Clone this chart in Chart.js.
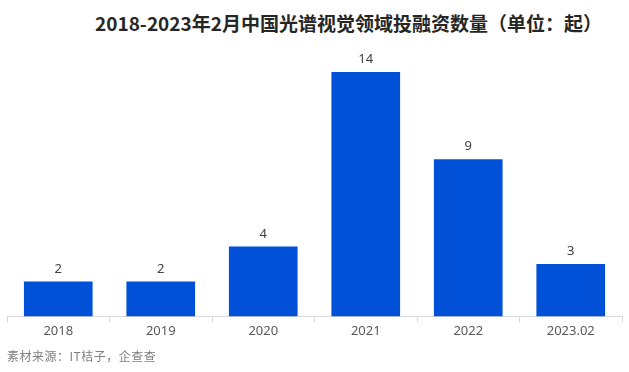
<!DOCTYPE html>
<html>
<head>
<meta charset="utf-8">
<script src="https://cdn.jsdelivr.net/npm/chart.js@4/dist/chart.umd.min.js"></script>
<style>
  body { margin: 0; background: #fff; }
  #wrap { position: relative; width: 629px; height: 372px; overflow: hidden; }
  #title {
    position: absolute; top: 9px; left: 90px; width: 517px; text-align: center;
    font: bold 19px "Noto Sans CJK SC", "Noto Sans", sans-serif; color: #262626; white-space: nowrap;
  }
  #source {
    position: absolute; top: 347px; left: 7px; letter-spacing: 0.5px;
    font: 12px "Noto Sans CJK SC", sans-serif; color: #7f7f7f; white-space: nowrap;
  }
  canvas { position: absolute; top: 0; left: 0; }
</style>
</head>
<body>
<div id="wrap">
  <div id="title">2018-2023年2月中国光谱视觉领域投融资数量（单位：起）</div>
  <canvas id="chart" width="629" height="372"></canvas>
  <div id="source">素材来源：IT桔子，企查查</div>
</div>
<script>
const categories = ['2018', '2019', '2020', '2021', '2022', '2023.02'];
const dealCounts = [2, 2, 4, 14, 9, 3];

const valueLabels = {
  id: 'valueLabels',
  afterDatasetsDraw(chart) {
    const ctx = chart.ctx;
    const meta = chart.getDatasetMeta(0);
    ctx.save();
    ctx.font = '13px "Noto Sans", sans-serif';
    ctx.fillStyle = '#404040';
    ctx.textAlign = 'center';
    ctx.textBaseline = 'bottom';
    meta.data.forEach((bar, i) => {
      ctx.fillText(dealCounts[i], bar.x, bar.y - 6);
    });
    ctx.restore();
  }
};

new Chart(document.getElementById('chart'), {
  type: 'bar',
  data: {
    labels: categories,
    datasets: [{
      data: dealCounts,
      backgroundColor: '#0050D8',
      categoryPercentage: 1,
      barPercentage: 0.67
    }]
  },
  options: {
    responsive: false,
    animation: false,
    layout: { padding: { top: 54.5, left: 7, right: 7, bottom: 32 } },
    plugins: {
      legend: { display: false },
      tooltip: { enabled: false }
    },
    scales: {
      x: {
        grid: { drawOnChartArea: false, tickLength: 6, color: '#d9d9d9' },
        border: { color: '#d9d9d9' },
        ticks: { padding: 1, color: '#595959', font: { size: 13, family: '"Noto Sans", sans-serif' } }
      },
      y: { display: false, min: 0, max: 15 }
    }
  },
  plugins: [valueLabels]
});
</script>
</body>
</html>
